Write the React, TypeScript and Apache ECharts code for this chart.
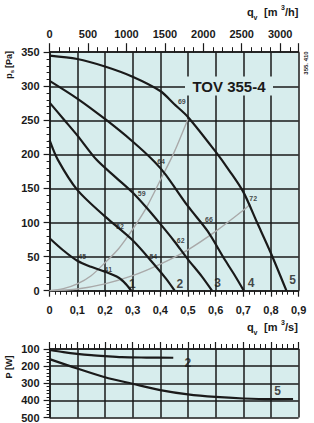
import React, { useEffect, useRef } from 'react';
import * as echarts from 'echarts';

// ---- data ----
// Pressure curves p_s [Pa] vs q_v [m3/s], speed steps 1..5
const curve1 = [[0, 77], [0.05, 59], [0.1, 44], [0.15, 35], [0.2, 28], [0.25, 19], [0.275, 10], [0.295, 0]];
const curve2 = [[0, 221], [0.03, 192], [0.1, 148], [0.2, 109], [0.3, 74], [0.375, 40], [0.42, 18], [0.452, 0]];
const curve3 = [[0, 276], [0.05, 252], [0.1, 228], [0.17, 192], [0.24, 166], [0.3, 144], [0.35, 122], [0.4, 98], [0.45, 73], [0.5, 46], [0.55, 21], [0.587, 0]];
const curve4 = [[0, 308], [0.1, 282], [0.2, 252], [0.3, 219], [0.38, 189], [0.42, 170], [0.5, 124], [0.57, 88], [0.634, 45], [0.67, 22], [0.702, 0]];
const curve5 = [[0, 345], [0.1, 340], [0.2, 329], [0.3, 314], [0.4, 293], [0.45, 274], [0.5, 255], [0.6, 204], [0.65, 176], [0.7, 145], [0.75, 100], [0.8, 55], [0.856, 0]];
const pressureCurves = [curve1, curve2, curve3, curve4, curve5];

// System (grey) curves
const system1 = [[0, 0], [0.05, 3], [0.1, 10], [0.15, 22], [0.2, 41], [0.25, 62], [0.3, 90], [0.35, 122], [0.4, 162], [0.45, 203], [0.5, 252]];
const system2 = [[0, 0], [0.1, 2.5], [0.2, 10], [0.3, 22], [0.4, 39], [0.5, 60], [0.6, 87], [0.7, 118], [0.725, 127]];

// Efficiency labels
const effLabels = [
  { name: '69', value: [0.478, 278] },
  { name: '72', value: [0.736, 135] },
  { name: '64', value: [0.403, 190] },
  { name: '66', value: [0.576, 104] },
  { name: '59', value: [0.333, 142] },
  { name: '62', value: [0.474, 74] },
  { name: '52', value: [0.254, 94] },
  { name: '54', value: [0.375, 50] },
  { name: '45', value: [0.118, 50] },
  { name: '41', value: [0.212, 31] },
];
const curveNumLabels = [
  { name: '1', value: [0.299, 10] },
  { name: '2', value: [0.471, 10] },
  { name: '3', value: [0.607, 11] },
  { name: '4', value: [0.728, 11] },
  { name: '5', value: [0.878, 16] },
];

// Power curves P [W]
const power2 = [[0, 106], [0.05, 118], [0.1, 128], [0.15, 136], [0.2, 142], [0.26, 148], [0.35, 150], [0.447, 151]];
const power5 = [[0, 159], [0.1, 214], [0.2, 265], [0.3, 303], [0.4, 340], [0.5, 365], [0.6, 380], [0.7, 389], [0.8, 393], [0.88, 392]];
const powerLabels = [
  { name: '2', value: [0.5, 181] },
  { name: '5', value: [0.824, 346] },
];

const title = 'TOV 355-4';
const sideNote = '355. 410';

const FONT = '"Liberation Sans", Arial, sans-serif';
const INK = '#1a1a1a';
const BG = '#d7eded';

function txt(text: string, x: number, y: number, size: number, align = 'left', rot = 0, z = 10) {
  return {
    type: 'text',
    x,
    y,
    rotation: rot,
    z,
    style: {
      text,
      fontSize: size,
      fontWeight: 'bold',
      fontFamily: FONT,
      fill: INK,
      textAlign: align,
      textVerticalAlign: 'middle',
      align,
      verticalAlign: 'middle',
    },
  };
}

export default function App() {
  const ref = useRef<HTMLDivElement>(null);
  useEffect(() => {
    if (!ref.current) return;
    const chart = echarts.init(ref.current, null, { renderer: 'svg' });
    const lineAxisStyle = { color: INK, width: 1.5 };
    const labelStyle = { fontSize: 11, fontWeight: 'bold', fontFamily: FONT, color: INK };
    const option: any = {
      animation: false,
      grid: [
        { left: 49.6, top: 52.2, width: 249, height: 238.5, show: true, backgroundColor: BG, borderWidth: 0 },
        { left: 49.6, top: 349, width: 249, height: 69.3, show: true, backgroundColor: BG, borderWidth: 0 },
      ],
      xAxis: [
        {
          gridIndex: 0, type: 'value', min: 0, max: 0.9, interval: 0.1, position: 'bottom',
          axisLine: { show: true, onZero: false, lineStyle: lineAxisStyle },
          axisTick: { show: true, length: 6, lineStyle: { color: INK, width: 1.2 } },
          minorTick: { show: true, splitNumber: 5, length: 4, lineStyle: { color: INK, width: 1 } },
          splitLine: { show: true, lineStyle: lineAxisStyle },
          axisLabel: {
            ...labelStyle, margin: 14,
            formatter: (v: number) => (v === 0 ? '0' : v.toFixed(1).replace('.', ',')),
          },
        },
        {
          gridIndex: 0, type: 'value', min: 0, max: 3240, interval: 500, position: 'top',
          axisLine: { show: true, onZero: false, lineStyle: lineAxisStyle },
          axisTick: { show: true, length: 9, lineStyle: { color: INK, width: 1.2 } },
          minorTick: { show: true, splitNumber: 4, length: 5, lineStyle: { color: INK, width: 1 } },
          splitLine: { show: false },
          axisLabel: {
            ...labelStyle, margin: 13, showMaxLabel: false,
            formatter: (v: number) => (v % 500 === 0 ? String(v) : ''),
          },
        },
        {
          gridIndex: 1, type: 'value', min: 0, max: 0.9, interval: 0.1, position: 'top',
          axisLine: { show: true, onZero: false, lineStyle: lineAxisStyle },
          axisTick: { show: true, length: 7, lineStyle: { color: INK, width: 1.2 } },
          minorTick: { show: true, splitNumber: 5, length: 5, lineStyle: { color: INK, width: 1 } },
          splitLine: { show: true, lineStyle: lineAxisStyle },
          axisLabel: { show: false },
        },
      ],
      yAxis: [
        {
          gridIndex: 0, type: 'value', min: 0, max: 350, interval: 50,
          axisLine: { show: true, onZero: false, lineStyle: lineAxisStyle },
          axisTick: { show: true, length: 6, lineStyle: { color: INK, width: 1.2 } },
          minorTick: { show: true, splitNumber: 5, length: 3, lineStyle: { color: INK, width: 1 } },
          splitLine: { show: true, lineStyle: lineAxisStyle },
          axisLabel: { ...labelStyle, margin: 10 },
        },
        {
          gridIndex: 1, type: 'value', min: 100, max: 500, interval: 100, inverse: true,
          axisLine: { show: true, onZero: false, lineStyle: lineAxisStyle },
          axisTick: { show: true, length: 6, lineStyle: { color: INK, width: 1.2 } },
          minorTick: { show: true, splitNumber: 5, length: 3, lineStyle: { color: INK, width: 1 } },
          splitLine: { show: true, lineStyle: lineAxisStyle },
          axisLabel: { ...labelStyle, margin: 10 },
        },
      ],
      series: [
        ...pressureCurves.map((d) => ({
          type: 'line', xAxisIndex: 0, yAxisIndex: 0, data: d, smooth: 0.3,
          symbol: 'none', z: 4, lineStyle: { color: INK, width: 2.2 },
        })),
        ...[system1, system2].map((d) => ({
          type: 'line', xAxisIndex: 0, yAxisIndex: 0, data: d, smooth: 0.3,
          symbol: 'none', z: 3, lineStyle: { color: '#a9a9a9', width: 1.4 },
        })),
        {
          type: 'scatter', xAxisIndex: 0, yAxisIndex: 0, data: effLabels, symbolSize: 1, z: 6,
          itemStyle: { color: 'transparent' },
          label: { show: true, position: 'inside', formatter: '{b}', fontSize: 7, fontWeight: 'bold', fontFamily: FONT, color: INK },
        },
        {
          type: 'scatter', xAxisIndex: 0, yAxisIndex: 0, data: curveNumLabels, symbolSize: 1, z: 6,
          itemStyle: { color: 'transparent' },
          label: { show: true, position: 'inside', formatter: '{b}', fontSize: 12, fontWeight: 'bold', fontFamily: FONT, color: INK },
        },
        ...[power2, power5].map((d) => ({
          type: 'line', xAxisIndex: 2, yAxisIndex: 1, data: d, smooth: 0.3,
          symbol: 'none', z: 4, lineStyle: { color: INK, width: 2.2 },
        })),
        {
          type: 'scatter', xAxisIndex: 2, yAxisIndex: 1, data: powerLabels, symbolSize: 1, z: 6,
          itemStyle: { color: 'transparent' },
          label: { show: true, position: 'inside', formatter: '{b}', fontSize: 12, fontWeight: 'bold', fontFamily: FONT, color: INK },
        },
      ],
      graphic: [
        { type: 'rect', x: 185, y: 76.5, z: 1, shape: { width: 88, height: 19 }, style: { fill: BG } },
        txt(title, 229, 86.5, 15, 'center'),
        // top axis title q_v [m3/h]
        txt('q', 247, 12, 11),
        txt('v', 253.5, 17, 7),
        txt('[m', 264, 12, 11),
        txt('3', 281, 7, 7),
        txt('/h]', 285, 12, 11),
        // bottom axis title q_v [m3/s]
        txt('q', 247, 327, 11),
        txt('v', 253.5, 332, 7),
        txt('[m', 264, 327, 11),
        txt('3', 281, 322, 7),
        txt('/s]', 285, 327, 11),
        // y titles
        txt('p', 9, 76, 9, 'center', Math.PI / 2),
        txt('s', 12, 71.5, 6, 'center', Math.PI / 2),
        txt('[Pa]', 9, 68, 9, 'left', Math.PI / 2),
        txt('P [W]', 9, 367, 9, 'center', Math.PI / 2),
        txt(sideNote, 306, 63, 6, 'center', Math.PI / 2),
      ],
    };
    chart.setOption(option);
    return () => chart.dispose();
  }, []);
  return <div ref={ref} style={{ position: 'absolute', left: 0, top: 0, width: 314, height: 423 }} />;
}
